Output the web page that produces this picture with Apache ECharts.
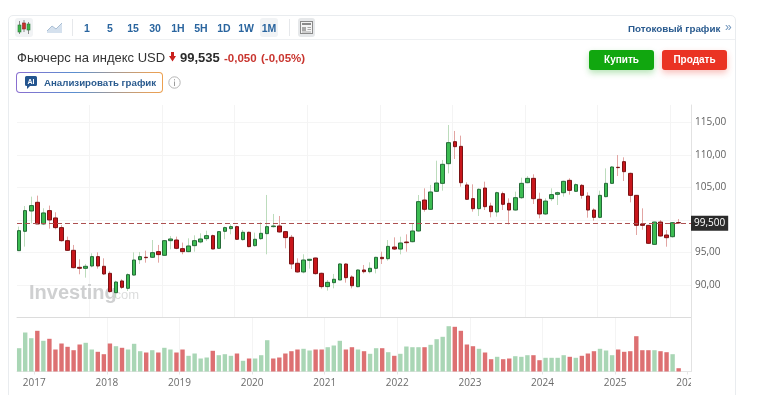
<!DOCTYPE html>
<html>
<head>
<meta charset="utf-8">
<title>Фьючерс на индекс USD</title>
<script src="https://cdn.jsdelivr.net/npm/echarts@6/dist/echarts.min.js"></script>
<style>
html,body{margin:0;padding:0;background:#fff;width:758px;height:395px;overflow:hidden;font-family:"Liberation Sans",Arial,sans-serif}
#card{position:absolute;left:8px;top:15px;width:728px;height:390px;border:1px solid #e9ecef;border-radius:5px;box-sizing:border-box}
#bar{position:absolute;left:9px;top:39px;width:726px;height:1px;background:#eef0f2}
#HzBarC{position:absolute;left:0;top:0;width:758px;height:395px}
.t{position:absolute;white-space:nowrap}
.tf{position:absolute;top:21px;width:22px;text-align:center;font-size:10.5px;line-height:15px;font-weight:bold;color:#2a659f;transform:translateX(-11px)}
.box{position:absolute;background:#f1f3f5;border-radius:3px}
.sep{position:absolute;top:19px;width:1px;height:17px;background:#e6e8eb}
.btn{position:absolute;top:50px;width:65px;height:20px;border-radius:3px;color:#fff;font-size:10px;font-weight:bold;line-height:20px;text-align:center}
</style>
</head>
<body>
<div id="card"></div>
<div id="bar"></div>
<div id="HzBarC"></div>

<div class="box" style="left:15px;top:18px;width:18px;height:19px"></div>
<svg class="t" style="left:17px;top:20px" width="14" height="15">
  <path d="M2.5 1v13M7 0v12M11.5 2v12" stroke="#888" fill="none"/>
  <rect x="1" y="5" width="3" height="7" fill="#3cb54a" stroke="#2b7a39" stroke-width=".6"/>
  <rect x="5.5" y="3" width="3" height="6" fill="#c9302c" stroke="#8c1e1b" stroke-width=".6"/>
  <rect x="10" y="4" width="3" height="6" fill="#3cb54a" stroke="#2b7a39" stroke-width=".6"/>
</svg>
<svg class="t" style="left:47px;top:22px" width="16" height="12">
  <path d="M0 9L5 4L9 7L15 1V11H0Z" fill="#d5e1ee"/>
  <path d="M0 9L5 4L9 7L15 1" fill="none" stroke="#a9bed4"/>
</svg>
<div class="sep" style="left:72px"></div>
<div class="box" style="left:260px;top:18px;width:18px;height:19px"></div>
<div class="tf" style="left:87px">1</div>
<div class="tf" style="left:110px">5</div>
<div class="tf" style="left:133px">15</div>
<div class="tf" style="left:155px">30</div>
<div class="tf" style="left:178px">1H</div>
<div class="tf" style="left:201px">5H</div>
<div class="tf" style="left:224px">1D</div>
<div class="tf" style="left:246px">1W</div>
<div class="tf" style="left:269px">1M</div>
<div class="sep" style="left:289px"></div>
<div class="box" style="left:298px;top:18px;width:17px;height:19px;background:#e6e8ea"></div>
<svg class="t" style="left:300px;top:21px" width="13" height="13">
  <rect x=".5" y=".5" width="12" height="12" fill="#f4f4f4" stroke="#8a8a8a"/>
  <rect x="2" y="2" width="9" height="2" fill="#8a8a8a"/>
  <rect x="2" y="6" width="4" height="4" fill="#a8a8a8"/>
  <path d="M7.5 6.5H11M7.5 8.5H11M2 11H11" stroke="#a8a8a8"/>
</svg>
<div class="t" style="left:628px;top:21px;font-size:9.8px;line-height:15px;font-weight:bold;color:#2a5b8f">Потоковый график</div>
<div class="t" style="left:725px;top:20px;font-size:12px;line-height:15px;color:#6f94bb">»</div>

<div class="t" style="left:17px;top:49px;font-size:13px;line-height:17px;color:#333">Фьючерс на индекс USD</div>
<svg class="t" style="left:169px;top:52px" width="7" height="10"><path d="M2 0H5V4H7L3.5 9.5L0 4H2Z" fill="#c9201d"/></svg>
<div class="t" style="left:180px;top:49px;font-size:13px;line-height:17px;font-weight:bold;color:#2b2b2b">99,535</div>
<div class="t" style="left:224px;top:50px;font-size:11.5px;line-height:16px;font-weight:bold;color:#c9352f">-0,050</div>
<div class="t" style="left:261px;top:50px;font-size:11.5px;line-height:16px;font-weight:bold;color:#c9352f">(-0,05%)</div>

<div class="t" style="left:16px;top:72px;width:147px;height:21px;box-sizing:border-box;padding:1px;border-radius:4px;background:linear-gradient(90deg,#8a6fd0,#5a8fd0 40%,#e0a060 90%,#eda04f)">
  <div style="width:100%;height:100%;background:#fff;border-radius:3px"></div>
</div>
<svg class="t" style="left:25px;top:76px" width="12" height="13"><path d="M1.5 0H10.5Q12 0 12 1.5V8.5Q12 10 10.5 10H5L2 13V10H1.5Q0 10 0 8.5V1.5Q0 0 1.5 0Z" fill="#24558f"/><text x="6" y="7.5" text-anchor="middle" font-size="7" font-weight="bold" fill="#fff" font-family="Liberation Sans">AI</text></svg>
<div class="t" style="left:44px;top:75px;font-size:9.7px;line-height:15px;font-weight:bold;color:#2a5b8f">Анализировать график</div>
<svg class="t" style="left:168px;top:76px" width="13" height="13"><circle cx="6.5" cy="6.5" r="5.7" fill="none" stroke="#b5b5b5"/><path d="M6.5 5.5V10M6.5 3.2V4.4" stroke="#9c9c9c"/></svg>

<div class="btn" style="left:589px;background:#11a70f;box-shadow:0 3px 6px rgba(17,167,15,.3)">Купить</div>
<div class="btn" style="left:662px;background:#ea3323;box-shadow:0 3px 6px rgba(234,51,35,.3)">Продать</div>

<script>
let months = [
  '2016-10','2016-11','2016-12',
  '2017-01','2017-02','2017-03','2017-04','2017-05','2017-06','2017-07','2017-08','2017-09','2017-10','2017-11','2017-12',
  '2018-01','2018-02','2018-03','2018-04','2018-05','2018-06','2018-07','2018-08','2018-09','2018-10','2018-11','2018-12',
  '2019-01','2019-02','2019-03','2019-04','2019-05','2019-06','2019-07','2019-08','2019-09','2019-10','2019-11','2019-12',
  '2020-01','2020-02','2020-03','2020-04','2020-05','2020-06','2020-07','2020-08','2020-09','2020-10','2020-11','2020-12',
  '2021-01','2021-02','2021-03','2021-04','2021-05','2021-06','2021-07','2021-08','2021-09','2021-10','2021-11','2021-12',
  '2022-01','2022-02','2022-03','2022-04','2022-05','2022-06','2022-07','2022-08','2022-09','2022-10','2022-11','2022-12',
  '2023-01','2023-02','2023-03','2023-04','2023-05','2023-06','2023-07','2023-08','2023-09','2023-10','2023-11','2023-12',
  '2024-01','2024-02','2024-03','2024-04','2024-05','2024-06','2024-07','2024-08','2024-09','2024-10','2024-11','2024-12',
  '2025-01','2025-02','2025-03','2025-04','2025-05','2025-06','2025-07','2025-08','2025-09','2025-10','2025-11'
];
let opens = [
  95.26,98.24,101.37,102.71,99.37,101.43,100.3,98.81,96.8,95.31,92.69,92.54,92.9,94.34,92.85,91.77,
  88.79,90.59,89.46,91.5,93.87,94.24,94.24,95.11,94.54,96.8,96.9,95.57,95.11,96.03,96.6,97.11,
  97.57,95.62,98.24,98.65,98.96,96.96,98.09,96.03,97.11,97.88,98.96,99.06,98.19,97.32,93.31,91.98,
  93.77,94.13,91.77,89.72,90.33,90.74,93.2,91.2,89.71,92.28,92.02,92.54,94.23,94.02,95.82,95.51,
  96.59,96.64,98.29,103.06,101.63,104.4,105.63,108.66,112.05,111.33,105.38,103.27,101.73,104.91,102.14,101.22,
  104.04,102.55,101.52,103.42,105.73,106.4,103.17,100.91,103.27,103.94,104.19,106.09,104.4,105.32,103.68,101.52,
  100.39,103.58,105.63,108.1,108.97,107.17,103.78,99.37,99.16,96.23,99.67,97.67,97.41,99.585
];
let closes = [
  98.34,101.43,102.2,99.37,101.07,99.99,98.81,96.8,95.31,92.64,92.54,92.85,94.34,92.9,91.67,88.95,
  90.43,89.61,91.56,93.82,94.34,94.18,94.95,94.65,96.8,97.06,95.62,95.11,95.98,96.8,97.06,97.57,
  95.52,98.19,98.81,98.96,97.01,98.09,95.88,97.01,97.93,98.96,99.06,98.14,97.27,93.21,91.98,93.82,
  93.93,91.72,89.72,90.38,90.85,93.21,91.1,89.86,92.28,92.02,92.54,94.23,94.02,95.92,95.51,96.44,
  96.49,98.29,102.81,101.63,104.3,105.68,108.56,111.9,111.28,105.73,103.17,101.73,104.71,102.04,101.27,104.19,
  102.4,101.52,103.42,105.63,106.4,103.27,100.91,102.9,103.89,104.19,105.94,104.55,105.43,103.78,101.52,100.39,
  103.78,105.63,108.15,108.05,107.43,103.78,99.16,99.16,96.39,99.67,97.52,97.26,99.57,99.535
];
let lows = [
  95.26,95.88,99.47,99.37,99.2,98.65,98.55,96.65,95.21,92.54,91.62,91.1,92.69,92.49,91.5,88.79,
  88.02,89.36,89.05,91.41,93.21,93.41,94.13,93.41,94.49,95.47,95.47,94.7,95.01,95.11,96.39,96.75,
  95.47,95.57,97.01,97.78,96.9,96.8,95.78,95.88,96.9,94.7,98.81,98.04,95.62,92.44,91.87,91.77,
  92.49,91.56,89.41,89.1,89.46,90.74,90.33,89.45,89.61,91.76,91.76,91.76,93.2,93.72,95.36,94.69,
  95.1,96.54,98.18,101.27,101.52,104.3,104.5,107.17,109.38,105.12,103.06,101.27,100.6,101.52,100.39,100.5,
  101.52,99.31,101.42,103.22,105.63,102.45,100.24,100.75,102.9,102.29,103.58,103.89,104.3,103.27,100.34,99.88,
  100.24,103.47,105.53,106.76,105.99,102.7,97.67,98.49,96.28,96.13,97.41,95.87,97.26,99.37
];
let highs = [
  98.96,102.14,103.58,103.74,101.79,102.2,101.17,99.2,97.42,96.14,93.93,93.21,94.85,95.0,94.08,92.08,
  90.64,90.85,91.77,95.0,95.06,95.26,96.9,96.14,96.9,97.52,97.42,96.5,97.16,97.62,97.93,98.34,
  97.73,98.24,98.96,99.32,99.11,98.45,98.19,98.04,99.63,103.84,100.91,100.6,98.29,97.68,94.08,94.7,
  93.98,94.18,91.87,90.74,91.67,93.31,93.31,91.46,92.38,93.05,93.46,94.33,95.1,96.9,97.31,97.41,
  97.77,99.37,103.83,104.86,105.38,109.12,109.23,114.62,113.7,112.98,105.79,105.48,104.86,105.89,102.65,104.35,
  104.35,103.32,104.35,106.5,106.76,107.02,104.19,103.32,104.86,104.35,106.04,106.4,105.63,105.53,104.25,101.78,
  104.5,107.94,108.3,110.0,109.64,107.28,103.83,101.78,99.21,99.72,99.98,98.44,99.67,100.14
];
let volumes = [
  23.3,39,33.3,40.7,30.7,32.7,22,28,24.7,21.3,27,28.7,22,19.7,17.3,28,25.3,23.7,22,27.7,20.3,19,
  21.3,19,23.7,22,19,22,15.7,18,13,14,20.7,16.3,17.3,15.7,18,10.7,13,13,16.3,31.3,13,14,18,20.3,22,
  22.7,21,22,22,24.3,26,30.7,22,24.3,22,20.3,17.7,23.3,23.3,19.3,15.7,17.7,25,24.3,24.3,24.3,26.7,
  32.3,34.7,45.3,44.7,40.7,27,25.3,22.7,19,12.3,14.7,12.3,13,15.3,14.7,16.3,16.3,11.3,13.7,13.7,13.7,
  16.3,14.7,13.7,15.7,18,20.3,22.7,21,16.3,22,19.7,20.3,35.3,21.3,21.3,21.3,20.3,19.3,17.3,3.3
];
// doji months whose volume bar has the other colour than the candle
let volumeFlips = [42, 64];
let yearTicks = [2017,2018,2019,2020,2021,2022,2023,2024,2025,2026];
let priceTicks = [90,95,105,110,115];
let lastLevel = 99.5;
let lastLabel = '99,500';

const upColor = '#3cbc52', downColor = '#c8161b';
const upBorder = '#256b38', downBorder = '#7a1214';
const upWick = '#bcdcbc', downWick = '#e2a5a3';
const volUp = '#a9d6b5', volDown = '#dd7072';
const axisFont = '"Open Sans", sans-serif';

function monthX(m){
  let p = m.split('-');
  return Number(p[0]) + (Number(p[1]) - 0.5) / 12;
}

let wicks = months.map((m,i) => [monthX(m), opens[i], closes[i], lows[i], highs[i]]);
let bodies = months.map((m,i) => [monthX(m), opens[i], closes[i], Math.min(opens[i],closes[i]), Math.max(opens[i],closes[i])]);
let volumeBars = months.map((m,i) => {
  let up = closes[i] >= opens[i];
  if(volumeFlips.includes(i)) up = !up;
  return {value:[monthX(m), volumes[i]], itemStyle:{color: up ? volUp : volDown}};
});

let HzBarC = echarts.init(document.getElementById('HzBarC'));

const xMin = 2016.762, xMax = 2026.045;

HzBarC.setOption({
  animation:false,
  graphic:[
    {type:'text', left:29, top:283, z:1, silent:true,
      style:{text:'Investing', fill:'#cfd0d1', font:'bold 20px "Liberation Sans", Arial, sans-serif'}},
    {type:'text', left:111, top:289, z:1, silent:true,
      style:{text:'.com', fill:'#dcdddd', font:'13px "Liberation Sans", Arial, sans-serif'}},
    {type:'rect', left:691, top:374, z:100, silent:true,
      shape:{width:14,height:18}, style:{fill:'#fff'}}
  ],
  grid:[
    {left:17, width:674, top:105, height:212.25},
    {left:17, width:674, top:318, height:53.5}
  ],
  xAxis:[
    {type:'value', gridIndex:0, min:xMin, max:xMax, interval:1,
      axisLine:{show:true, onZero:false, lineStyle:{color:'#dcdcdc'}},
      axisTick:{show:false}, axisLabel:{show:false},
      splitLine:{show:true, showMinLine:false, showMaxLine:false, lineStyle:{color:'#f4f4f4'}}},
    {type:'value', gridIndex:1, min:xMin, max:xMax, interval:1,
      axisLine:{show:true, onZero:false, lineStyle:{color:'#e6e6e6'}},
      axisTick:{show:true, length:3, lineStyle:{color:'#e6e6e6'}, customValues:yearTicks},
      axisLabel:{customValues:yearTicks, formatter:v => String(v), color:'#6b6b6b', fontSize:10, margin:7, fontFamily:axisFont},
      splitLine:{show:true, showMinLine:false, showMaxLine:false, lineStyle:{color:'#f4f4f4'}}}
  ],
  yAxis:[
    {type:'value', gridIndex:0, position:'right', min:85, max:117.7, interval:5,
      axisLine:{show:true, lineStyle:{color:'#e2e2e2'}},
      axisTick:{show:false},
      axisLabel:{customValues:priceTicks, formatter:v => v.toFixed(2).replace('.',','), color:'#5f5f5f', fontSize:10, margin:4, padding:[2,0,0,0], fontFamily:axisFont},
      splitLine:{show:true, showMinLine:false, showMaxLine:false, lineStyle:{color:'#f5f5f5'}}},
    {type:'value', gridIndex:1, position:'right', min:0, max:53.5,
      axisLine:{show:true, lineStyle:{color:'#e2e2e2'}},
      axisTick:{show:false}, axisLabel:{show:false}, splitLine:{show:false}}
  ],
  series:[
    {type:'candlestick', name:'wick', xAxisIndex:0, yAxisIndex:0, z:3, barWidth:1, silent:true,
      encode:{x:0, y:[1,2,3,4]}, data:wicks,
      itemStyle:{color:upWick, color0:downWick, borderColor:upWick, borderColor0:downWick, borderColorDoji:downWick, borderWidth:1}},
    {type:'candlestick', name:'body', xAxisIndex:0, yAxisIndex:0, z:4, barWidth:4, silent:true,
      encode:{x:0, y:[1,2,3,4]}, data:bodies,
      itemStyle:{color:upColor, color0:downColor, borderColor:upBorder, borderColor0:downBorder, borderColorDoji:downBorder, borderWidth:1},
      markLine:{silent:true, symbol:'none', animation:false, z:5,
        lineStyle:{color:'#ad5050', type:[5,3], width:1},
        label:{position:'end', distance:0, formatter:lastLabel, color:'#fff', backgroundColor:'#2b2b2b',
          padding:[3,3,2,3], fontSize:10, fontFamily:axisFont},
        data:[{yAxis:lastLevel}]}},
    {type:'bar', name:'volume', xAxisIndex:1, yAxisIndex:1, barWidth:4.4, z:3, silent:true,
      encode:{x:0, y:1}, data:volumeBars}
  ]
});
</script>
</body>
</html>
